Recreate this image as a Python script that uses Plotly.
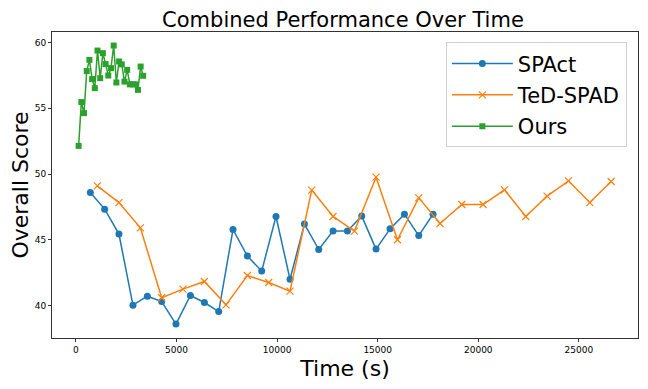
import plotly.graph_objects as go

# SPAct
spact_t = [716, 1427, 2138, 2834, 3550, 4262, 4973, 5689, 6385, 7096, 7807, 8523, 9234,
           9945, 10641, 11358, 12069, 12780, 13496, 14207, 14918, 15614, 16330, 17041, 17752]
spact_score = [48.6, 47.33, 45.43, 40.03, 40.71, 40.3, 38.59, 40.76, 40.23, 39.54, 45.78, 43.76, 42.62,
               46.77, 42.0, 46.19, 44.26, 45.66, 45.66, 46.8, 44.29, 45.83, 46.95, 45.32, 46.95]

# TeD-SPAD
ted_t = [1064, 2138, 3202, 4262, 5321, 6385, 7459, 8523, 9582, 10641, 11721, 12780, 13844,
         14918, 15982, 17041, 18100, 19180, 20239, 21303, 22362, 23421, 24485, 25544, 26604]
ted_score = [49.1, 47.83, 45.91, 40.59, 41.25, 41.83, 40.05, 42.28, 41.75, 41.09, 48.78, 46.77, 45.66,
             49.76, 45.0, 48.19, 46.24, 47.68, 47.68, 48.8, 46.77, 48.32, 49.48, 47.83, 49.43]

# Ours
ours_t = [134, 268, 402, 536, 670, 804, 938, 1072, 1206, 1340, 1474, 1608, 1742,
          1876, 2010, 2144, 2278, 2412, 2546, 2680, 2814, 2948, 3082, 3216, 3342]
ours_score = [52.14, 55.47, 54.63, 57.83, 58.68, 57.22, 56.53, 59.39, 57.29, 59.19, 58.36, 57.49, 58.05,
              59.77, 56.96, 58.56, 58.34, 57.03, 57.92, 56.82, 56.82, 56.82, 56.4, 58.17, 57.47]

x_ticks = [0, 5000, 10000, 15000, 20000, 25000]
y_ticks = [40, 45, 50, 55, 60]

font = 'DejaVu Sans'

fig = go.Figure()
fig.add_trace(go.Scatter(
    x=spact_t, y=spact_score, name='SPAct', mode='lines+markers', legendgroup='a',
    line=dict(color='#1f77b4', width=1.5),
    marker=dict(symbol='circle', size=7, color='#1f77b4'),
))
fig.add_trace(go.Scatter(
    x=ted_t, y=ted_score, name='TeD-SPAD', mode='lines+markers', legendgroup='b',
    line=dict(color='#ff7f0e', width=1.5),
    marker=dict(symbol='x-thin', size=7, color='#ff7f0e', line=dict(color='#ff7f0e', width=1.2)),
))
fig.add_trace(go.Scatter(
    x=ours_t, y=ours_score, name='Ours', mode='lines+markers', legendgroup='c',
    line=dict(color='#2ca02c', width=1.5),
    marker=dict(symbol='square', size=6, color='#2ca02c'),
))

axis_style = dict(
    showline=True, mirror=True, linecolor='#333333', linewidth=1,
    showgrid=False, zeroline=False, automargin=False,
    ticks='outside', ticklen=3, tickcolor='#333333',
    tickfont=dict(family=font, size=9, color='black'),
)

# page has an 8px body margin, so the figure is 640x381
fig.update_layout(
    width=640, height=381,
    margin=dict(l=44, r=10, t=24, b=51),
    paper_bgcolor='white', plot_bgcolor='white',
    font=dict(family=font, color='black'),
    title=dict(text='Combined Performance Over Time', x=0.5234, xanchor='center',
               y=0.97, yanchor='middle', font=dict(family=font, size=21, color='black')),
    xaxis=dict(range=[-1190, 27940], tickvals=x_ticks, ticktext=[str(v) for v in x_ticks],
               title=dict(text='Time (s)', font=dict(family=font, size=22), standoff=6),
               **axis_style),
    yaxis=dict(range=[37.53, 60.8], tickvals=y_ticks, ticktext=[str(v) for v in y_ticks],
               title=dict(text='Overall Score', font=dict(family=font, size=22), standoff=6),
               **axis_style),
    legend=dict(x=0.981, y=0.966, xanchor='right', yanchor='top', tracegroupgap=1,
                itemwidth=61,
                bgcolor='rgba(255,255,255,0.8)', bordercolor='#d0d0d0', borderwidth=1,
                font=dict(family=font, size=21, color='black')),
    showlegend=True,
)

fig.write_html("out.html")
